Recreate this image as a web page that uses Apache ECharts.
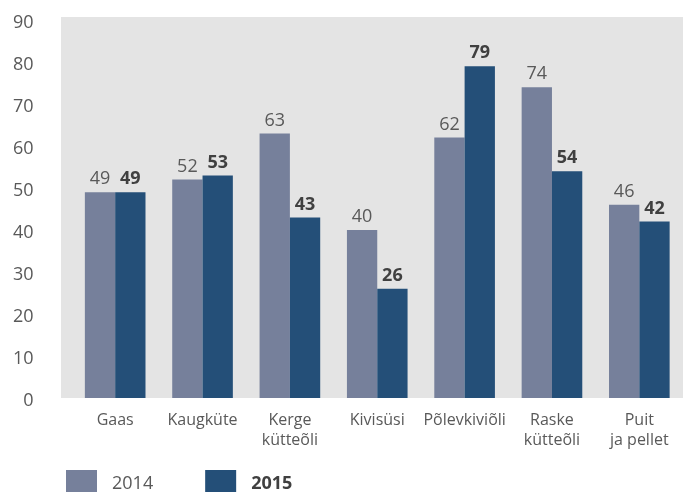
<!DOCTYPE html>
<html>
<head>
<meta charset="utf-8">
<script src="https://cdn.jsdelivr.net/npm/echarts@6/dist/echarts.min.js"></script>
<style>
html,body{margin:0;padding:0;background:#fff;}
#chart{width:683px;height:492px;}
</style>
</head>
<body>
<div id="chart"></div>
<script>
const categories = ['Gaas', 'Kaugküte', 'Kerge\nkütteõli', 'Kivisüsi', 'Põlevkiviõli', 'Raske\nkütteõli', 'Puit\nja pellet'];
const values2014 = [49, 52, 63, 40, 62, 74, 46];
const values2015 = [49, 53, 43, 26, 79, 54, 42];
const yTicks = [0, 10, 20, 30, 40, 50, 60, 70, 80, 90];

const FONT = '"Open Sans", "Noto Sans", sans-serif';
const chart = echarts.init(document.getElementById('chart'), null, {renderer: 'canvas'});
chart.setOption({
  backgroundColor: '#ffffff',
  animation: false,
  textStyle: {fontFamily: FONT},
  graphic: [{
    type: 'rect', z: -10, silent: true,
    shape: {x: 61, y: 17, width: 622, height: 381},
    style: {fill: '#E4E4E4'}
  }],
  grid: {left: 71.5, top: 20, width: 615.5, height: 378, containLabel: false},
  xAxis: {
    type: 'category',
    data: categories,
    axisLine: {show: false},
    axisTick: {show: false},
    axisLabel: {color: '#595959', fontSize: 16, lineHeight: 20, margin: 12, fontFamily: FONT, interval: 0}
  },
  yAxis: {
    type: 'value',
    min: yTicks[0], max: yTicks[yTicks.length - 1], interval: 10,
    splitLine: {show: false},
    axisLine: {show: false},
    axisTick: {show: false},
    axisLabel: {color: '#595959', fontSize: 18, margin: 38, fontFamily: FONT, verticalAlign: 'top', lineHeight: 6}
  },
  legend: {
    left: 61, top: 465,
    icon: 'rect', itemWidth: 31, itemHeight: 28, itemGap: 52,
    data: [
      {name: '2014', textStyle: {color: '#595959', fontSize: 18, fontFamily: FONT, padding: [0, 0, 0, 10]}},
      {name: '2015', textStyle: {color: '#404040', fontSize: 18, fontWeight: 'bold', fontFamily: FONT, padding: [0, 0, 0, 10]}}
    ]
  },
  series: [
    {
      name: '2014', type: 'bar', data: values2014,
      barGap: '0%', barCategoryGap: '30.6%',
      itemStyle: {color: '#76809B'},
      label: {show: true, position: 'top', distance: 4, color: '#595959', fontSize: 18, fontFamily: FONT}
    },
    {
      name: '2015', type: 'bar', data: values2015,
      barGap: '0%', barCategoryGap: '30.6%',
      itemStyle: {color: '#244F78'},
      label: {show: true, position: 'top', distance: 4, color: '#404040', fontSize: 18, fontWeight: 'bold', fontFamily: FONT}
    }
  ]
});
</script>
</body>
</html>
